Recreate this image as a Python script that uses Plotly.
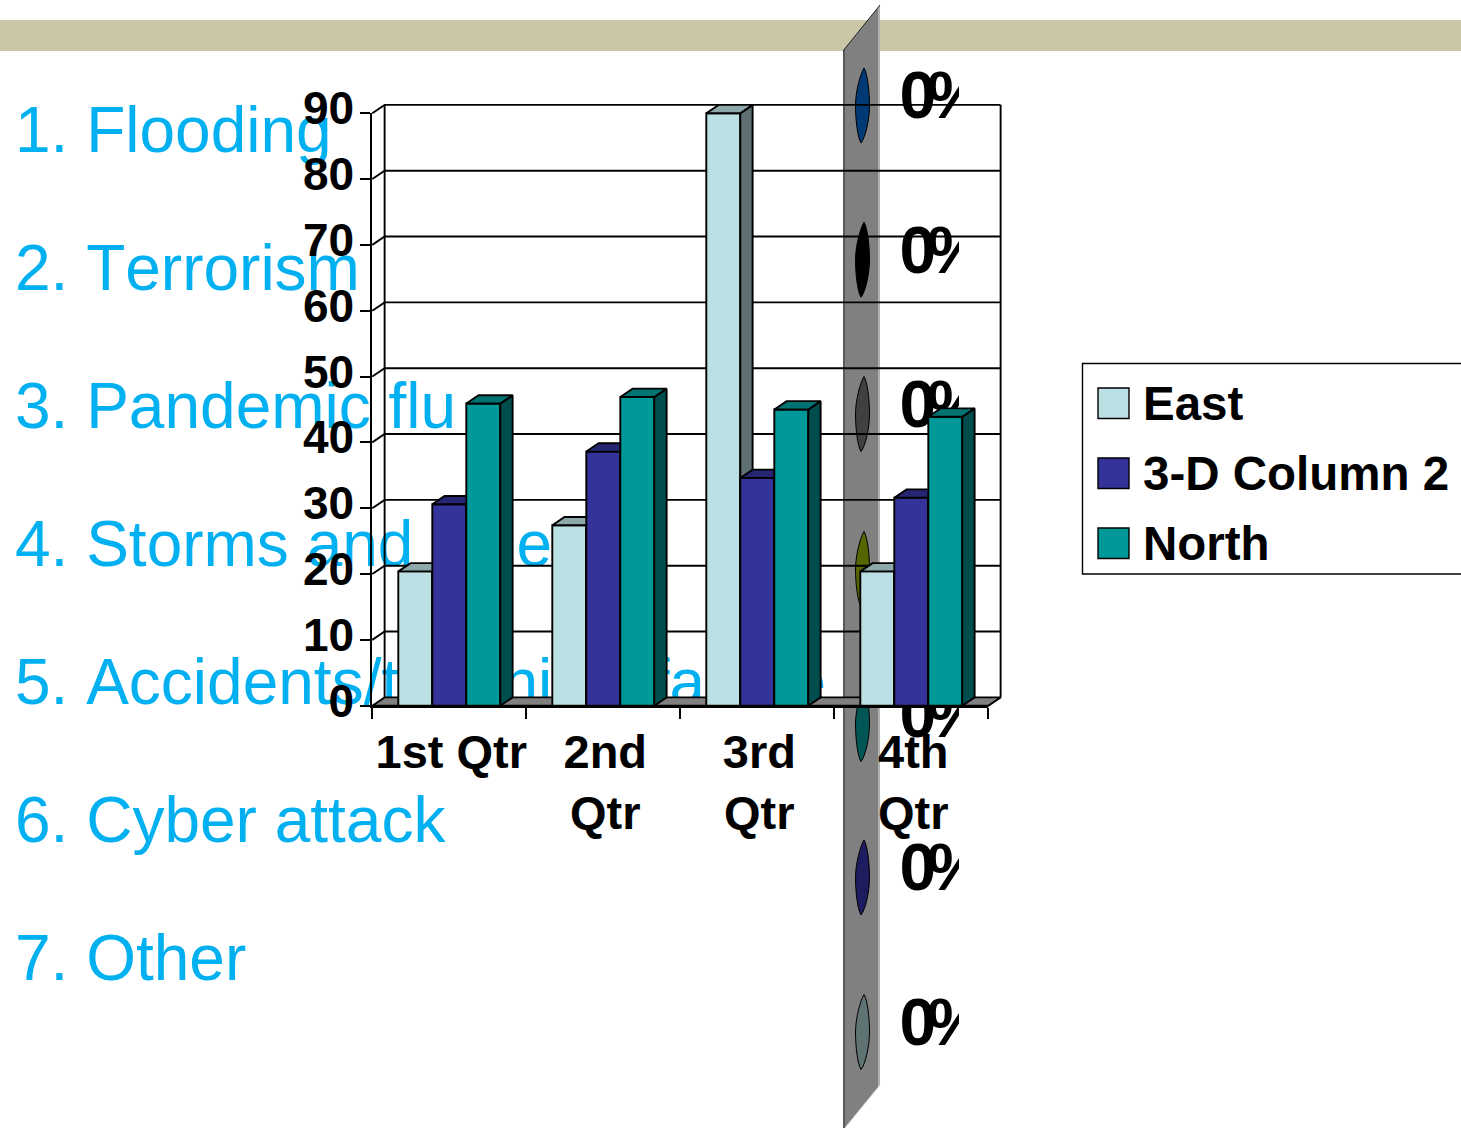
import plotly.graph_objects as go

# ---- data ----
categories = ["1st Qtr", "2nd Qtr", "3rd Qtr", "4th Qtr"]
tick_labels = ["1st Qtr", "2nd<br>Qtr", "3rd<br>Qtr", "4th<br>Qtr"]
east = [20.4, 27.4, 90, 20.4]
column2 = [30.6, 38.6, 34.6, 31.6]
north = [45.9, 46.9, 45, 43.9]
y_ticks = [0, 10, 20, 30, 40, 50, 60, 70, 80, 90]
list_items = ["1. Flooding", "2. Terrorism", "3. Pandemic flu", "4. Storms and gales",
              "5. Accidents/technical failure", "6. Cyber attack", "7. Other"]
pct_labels = ["0%"] * 7
legend_names = ["East", "3-D Column 2", "North"]

# ---- style / layout ----
W, H = 1461, 1128
L, R, T, B = 372.3, 988.3, 113.2, 705.7
DX, DY = 0.08, 1.26
BAR_W = 34 / 154
FONT = "Liberation Sans"
BLACK_W = 1.9
series = [
    ("East", east, "#BBE0E3", "#8CA8AA", "#5E7072", -1),
    ("3-D Column 2", column2, "#333399", "#262673", "#1A1A4D", 0),
    ("North", north, "#009999", "#007373", "#004D4D", 1),
]
list_y = [136, 274, 412, 550, 688, 826, 964]
pct_y = [101.5, 256, 410.8, 565.5, 720, 873.5, 1028.5]
ell_y = [105.5, 259.7, 414, 569, 724, 877.5, 1032]
ell_col = ["#003A75", "#000000", "#404040", "#556600", "#005555", "#1C1C5E", "#5F7373"]

n = len(categories)
fig = go.Figure()

# 1: text list (behind the chart)
fig.add_trace(go.Scatter(x=[15] * len(list_items), y=list_y,
                         text=['<span style="font-kerning:none">%s</span>' % s for s in list_items],
                         mode="text", textposition="middle right", xaxis="x", yaxis="y", hoverinfo="skip",
                         textfont=dict(family=FONT, size=64, color="#00B0F0"), showlegend=False))

# 2: clipped percentage labels
fig.add_trace(go.Scatter(x=[899.5] * 7, y=pct_y,
                         text=['<span style="letter-spacing:-9px">%s</span>%s' % (p[0], p[1]) for p in pct_labels],
                         mode="text", textposition="middle right", xaxis="x2", yaxis="y2",
                         hoverinfo="skip", cliponaxis=True,
                         textfont=dict(family=FONT, size=66, color="black", weight=700), showlegend=False))

# 3: walls, grid, floor
gx, gy = [], []
for v in y_ticks[1:]:
    gx += [0, DX, n + DX, None]
    gy += [v, v + DY, v + DY, None]
gx += [DX, DX, None, n + DX, n + DX, None]
gy += [DY, 90 + DY, None, DY, 90 + DY, None]
fig.add_trace(go.Scatter(x=gx, y=gy, mode="lines", line=dict(color="black", width=BLACK_W),
                         xaxis="x3", yaxis="y3", hoverinfo="skip", showlegend=False))
fig.add_trace(go.Scatter(x=[0, DX, n + DX, n, 0], y=[0, DY, DY, 0, 0], mode="lines", fill="toself",
                         fillcolor="#808080", line=dict(color="black", width=BLACK_W),
                         xaxis="x3", yaxis="y3", hoverinfo="skip", showlegend=False))

# 4: the visible axes
fig.add_trace(go.Scatter(x=[None], y=[None], mode="lines", xaxis="x4", yaxis="y4",
                         hoverinfo="skip", showlegend=False))

# 5-7: one layer per series, painted back to front
for k, (name, vals, front, top, side, off) in enumerate(series):
    ax = str(5 + k)
    xs = [i + 0.5 + off * BAR_W for i in range(n)]
    fig.add_trace(go.Bar(x=xs, y=vals, width=[BAR_W] * n, name=name, xaxis="x" + ax, yaxis="y" + ax,
                         marker=dict(color=front, line=dict(color="black", width=BLACK_W)),
                         showlegend=False))
    tx, ty, sx, sy = [], [], [], []
    for x, v in zip(xs, vals):
        a, b = x - BAR_W / 2, x + BAR_W / 2
        tx += [a, a + DX, b + DX, b, a, None]
        ty += [v, v + DY, v + DY, v, v, None]
        sx += [b, b + DX, b + DX, b, b, None]
        sy += [0, DY, v + DY, v, 0, None]
    for px, py, col in ((sx, sy, side), (tx, ty, top)):
        fig.add_trace(go.Scatter(x=px, y=py, mode="lines", fill="toself", fillcolor=col,
                                 line=dict(color="black", width=BLACK_W), xaxis="x" + ax, yaxis="y" + ax,
                                 hoverinfo="skip", showlegend=False))

shapes = [
    dict(type="rect", xref="paper", yref="paper", x0=0, x1=1, y0=1 - 51 / H, y1=1 - 20 / H,
         fillcolor="#CCC6A8", line_width=0, layer="below"),
    dict(type="path", xref="x", yref="y", layer="below", fillcolor="#808080", line=dict(color="#808080", width=0),
         path="M843,51 L880,5 L880,1085 L843,1130 Z"),
    dict(type="path", xref="x", yref="y", layer="below", fillcolor="#5A5A5A", line_width=0,
         path="M843,51 L845,48.5 L845,1128 L843,1130 Z"),
    dict(type="path", xref="x", yref="y", layer="below", fillcolor="#B0B0B0", line_width=0,
         path="M878,7.5 L880,5 L880,1085 L878,1087.5 Z"),
    dict(type="line", xref="x", yref="y", layer="below", x0=843, y0=51, x1=880, y1=5,
         line=dict(color="#222222", width=1)),
    dict(type="line", xref="x", yref="y", layer="below", x0=845, y0=1128, x1=880, y1=1085,
         line=dict(color="#D8D8D8", width=1)),
]
for cy, col in zip(ell_y, ell_col):
    cx = 862.5
    p = (f"M{cx+1.5},{cy-37.5} C{cx+5},{cy-32} {cx+7},{cy-14} {cx+7},{cy} "
         f"C{cx+7},{cy+14} {cx+3},{cy+32} {cx-1.5},{cy+37.5} "
         f"C{cx-5},{cy+32} {cx-7},{cy+14} {cx-7},{cy} C{cx-7},{cy-14} {cx-2},{cy-32} {cx+1.5},{cy-37.5} Z")
    shapes.append(dict(type="path", xref="x", yref="y", layer="below", path=p, fillcolor=col,
                       line=dict(color="black", width=1)))

# legend box
shapes.append(dict(type="rect", xref="paper", yref="paper", x0=1082.5 / W, x1=1.02,
                   y0=1 - 574 / H, y1=1 - 363.5 / H, fillcolor="white", line=dict(color="black", width=1.4)))
annotations = []
for (name, _, front, *_rest), sy, ty in zip(series, [388, 458, 528], [403, 473, 543]):
    shapes.append(dict(type="rect", xref="paper", yref="paper", x0=1098 / W, x1=1129 / W,
                       y0=1 - (sy + 30.5) / H, y1=1 - sy / H, fillcolor=front, line=dict(color="black", width=1.4)))
    annotations.append(dict(text=name, xref="paper", yref="paper", x=1142 / W, y=1 - ty / H, xanchor="left",
                            yanchor="middle", showarrow=False, borderpad=0,
                            font=dict(family=FONT, size=47.5, color="black", weight=700)))

dom_x = [L / W, R / W]
dom_y = [1 - B / H, 1 - T / H]
px_x = (R - L) / n
px_y = (B - T) / 90
full_x = [-L / px_x, (W - L) / px_x]
full_y = [-(H - B) / px_y, B / px_y]
layout = dict(
    width=W, height=H, margin=dict(l=0, r=0, t=0, b=0, pad=0, autoexpand=False), autosize=False,
    paper_bgcolor="white", plot_bgcolor="rgba(0,0,0,0)", showlegend=False, barmode="overlay",
    shapes=shapes, annotations=annotations, hovermode=False,
    xaxis=dict(visible=False, range=[0, W], domain=[0, 1], anchor="y"),
    yaxis=dict(visible=False, range=[H, 0], domain=[0, 1], anchor="x"),
    xaxis2=dict(visible=False, range=[0, 959], domain=[0, 959 / W], anchor="y2"),
    yaxis2=dict(visible=False, range=[H, 0], domain=[0, 1], anchor="x2"),
    xaxis4=dict(range=[0, n], domain=dom_x, anchor="y4", showgrid=False, zeroline=False, showline=True,
                linecolor="black", linewidth=2, tickmode="array", tickvals=[i + 0.5 for i in range(n)],
                ticktext=tick_labels, ticks="", ticklabelstandoff=4, ticklabelshift=2,
                minor=dict(tickmode="array", tickvals=list(range(n + 1)), ticks="outside", ticklen=11,
                           tickwidth=BLACK_W, tickcolor="black", showgrid=False),
                tickfont=dict(family=FONT, size=47, color="black", weight=700)),
    yaxis4=dict(range=[0, 90], domain=dom_y, anchor="x4", showgrid=False, zeroline=False, showline=True,
                linecolor="black", linewidth=BLACK_W, tickmode="array", tickvals=y_ticks, ticks="outside",
                ticklen=10, tickwidth=BLACK_W, tickcolor="black", ticklabelstandoff=-3, ticklabelshift=-5,
                tickfont=dict(family=FONT, size=46, color="black", weight=700)),
)
for k in (3, 5, 6, 7):
    layout[f"xaxis{k}"] = dict(visible=False, range=full_x, domain=[0, 1], anchor=f"y{k}")
    layout[f"yaxis{k}"] = dict(visible=False, range=full_y, domain=[0, 1], anchor=f"x{k}")
fig.update_layout(**layout)

fig.write_html("out.html", config=dict(displayModeBar=False),
               post_script="document.body.style.margin='0';document.body.style.overflow='hidden';")
